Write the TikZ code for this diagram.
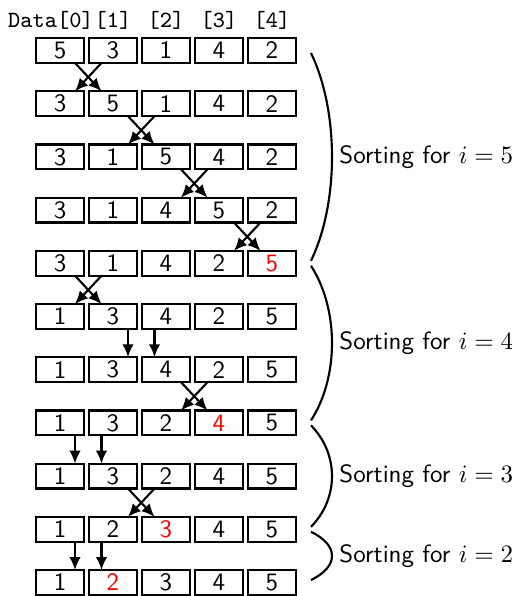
\documentclass[tikz,border=0pt]{standalone}
\usetikzlibrary{arrows.meta,calc}
\begin{document}
\begin{tikzpicture}[x=0.40pt,y=-0.40pt, font=\sffamily,
  cell/.style={draw, line width=0.85pt, minimum width=19.15pt, minimum height=9.95pt, inner sep=0pt, outer sep=0pt},
  arr/.style={-{Latex[length=5.2pt,width=4.6pt]}, line width=0.85pt},
  hdr/.style={font=\fontsize{9.3}{11}\ttfamily, inner sep=0pt},
  bracecurve/.style={line width=0.85pt},
  lbl/.style={anchor=west, inner sep=0pt}]
\useasboundingbox (0,0) rectangle (512,596);
% rows of cells
\foreach \k/\vals in {0/{5,3,1,4,2},1/{3,5,1,4,2},2/{3,1,5,4,2},3/{3,1,4,5,2},
  4/{3,1,4,2,{\color{red}5}},5/{1,3,4,2,5},6/{1,3,4,2,5},7/{1,3,2,{\color{red}4},5},
  8/{1,3,2,4,5},9/{1,2,{\color{red}3},4,5},10/{1,{\color{red}2},3,4,5}}{
  \foreach \v [count=\j from 0] in \vals {
    \node[cell] (r\k-\j) at ({60+53*\j},{50.5+53.2*\k}) {\v};
  }
}
% header
\foreach \j in {1,2,3,4}{
  \node[hdr, anchor=base] (h\j) at ($(r0-\j.north)+(0,-11)$) {[\j]};
}
\node[hdr, anchor=base east] (h0) at (h1.base west) {Data[0]};
% swaps (crossing arrows)
\foreach \k/\g/\kk/\gg in {0/0/1/1,1/1/2/2,2/2/3/3,3/3/4/4,4/0/5/1,6/2/7/3,8/1/9/2}{
  \draw[arr] ($(r\k-\g.south)+(15,0)$) -- ($(r\kk-\gg.north)+(-11.5,0)$);
  \draw[arr] ($(r\k-\gg.south)+(-11.5,0)$) -- ($(r\kk-\g.north)+(15,0)$);
}
% no swap (straight arrows)
\foreach \k/\g/\kk/\gg in {5/1/6/2,7/0/8/1,9/0/10/1}{
  \draw[arr] ($(r\k-\g.south)+(15,0)$) -- ($(r\kk-\g.north)+(15,0)$);
  \draw[arr] ($(r\k-\gg.south)+(-11.5,0)$) -- ($(r\kk-\gg.north)+(-11.5,0)$);
}
% braces and labels
\foreach \a/\b/\n in {0/4/5,4/7/4,7/9/3,9/10/2}{
  \pgfmathsetmacro\ya{50.5+53.2*\a+2.5}
  \pgfmathsetmacro\yb{50.5+53.2*\b-2.5}
  \pgfmathsetmacro\ym{(\ya+\yb)/2}
  \pgfmathsetmacro\yc{(\yb-\ya)*0.28}
  \draw[bracecurve] (311,\ya) .. controls (339,\ya+\yc) and (339,\yb-\yc) .. (311,\yb);
  \node[lbl] (s\n) at (339,\ym) {Sorting for $i=\n$};
}
\end{tikzpicture}
\end{document}
